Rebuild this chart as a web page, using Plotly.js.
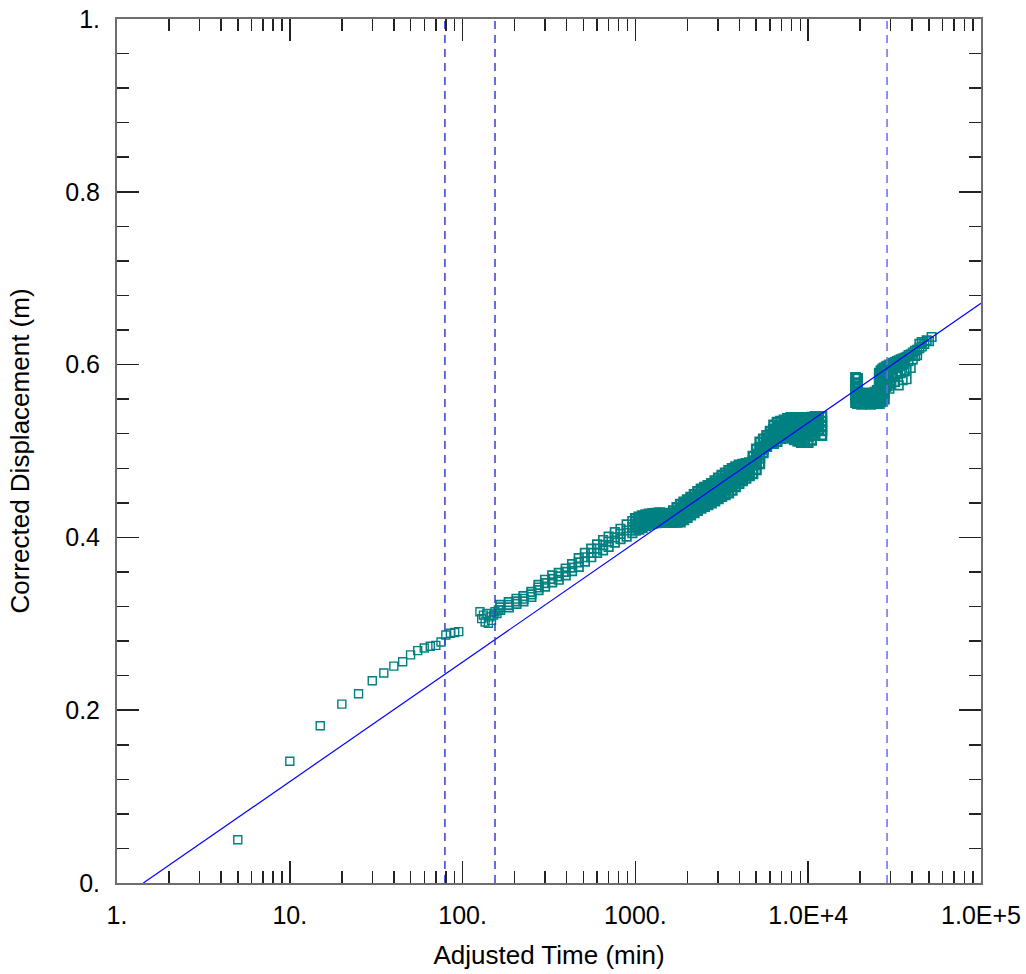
<!DOCTYPE html>
<html>
<head>
<meta charset="utf-8">
<script src="https://cdn.plot.ly/plotly-3.0.1.min.js"></script>
<style>html,body{margin:0;padding:0;background:#fff;}#chart{width:1026px;height:974px;}</style>
</head>
<body>
<div id="chart"></div>
<script>
// ---- data ----
var tStart = [5,10,15,20,25,30,35,40,45,50,55,60,65,70,75,80,85,90,95];
var dStart = [0.050,0.141,0.182,0.207,0.219,0.234,0.243,0.251,0.256,0.264,0.269,0.272,0.274,0.275,0.279,0.287,0.289,0.290,0.291];

var tCluster = [126,129,132,135,138,141,144,147,151,154,158,161];
var dCluster = [0.314,0.306,0.310,0.302,0.312,0.3006,0.308,0.304,0.310,0.314,0.312,0.316];

var tEarly = [165,185,205,225,250,275,300,330,360,395,430,470,510,555,600,650,700,760,820,890,960];
var dEarlyHi  = [0.322,0.325,0.329,0.332,0.337,0.345,0.351,0.356,0.359,0.364,0.369,0.376,0.382,0.387,0.392,0.397,0.401,0.406,0.410,0.415,0.419];
var dEarlyMid = [0.319,0.322,0.326,0.329,0.334,0.342,0.347,0.352,0.355,0.360,0.365,0.371,0.377,0.382,0.387,0.391,0.395,0.400,0.404,0.408,0.412];
var dEarlyLo  = [0.316,0.319,0.323,0.326,0.331,0.339,0.343,0.348,0.351,0.356,0.361,0.366,0.372,0.377,0.382,0.385,0.389,0.394,0.398,0.401,0.405];

var tDense = [1000,1047,1096,1148,1202,1259,1318,1380,1445,1514,1585,1660,1738,1820,1905,1995,2089,2188,2291,2399,2512,2630,2754,2884,3020,3162,3311,3467,3631,3802,3981,4169,4365,4571,4786,5012,5248,5495,5754,6026,6310,6607,6918,7244,7586,7943,8318,8710,9120,9550,10000,10471,10965,11482,12000];
var dDense1 = [.4219,.4238,.4252,.4262,.4271,.4277,.4280,.4285,.4281,.4277,.4273,.4310,.4346,.4383,.4410,.4436,.4465,.4498,.4531,.4560,.4580,.4600,.4625,.4656,.4689,.4720,.4747,.4775,.4799,.4818,.4838,.4848,.4855,.4866,.4939,.5024,.5105,.5140,.5179,.5228,.5301,.5334,.5344,.5360,.5376,.5388,.5388,.5388,.5388,.5388,.5388,.5391,.5399,.5399,.5399];
var dDense2 = [.4185,.4202,.4217,.4230,.4242,.4248,.4252,.4258,.4255,.4252,.4249,.4277,.4304,.4332,.4359,.4385,.4413,.4445,.4476,.4504,.4524,.4544,.4568,.4598,.4629,.4658,.4683,.4709,.4735,.4760,.4785,.4800,.4812,.4828,.4888,.4963,.5042,.5100,.5147,.5193,.5248,.5278,.5294,.5307,.5320,.5329,.5324,.5319,.5316,.5316,.5316,.5324,.5344,.5360,.5344];
var dDense3 = [.4150,.4167,.4182,.4198,.4212,.4220,.4225,.4230,.4229,.4227,.4225,.4243,.4261,.4281,.4308,.4334,.4362,.4392,.4421,.4449,.4468,.4488,.4512,.4539,.4568,.4596,.4620,.4644,.4672,.4702,.4731,.4752,.4769,.4789,.4838,.4903,.4979,.5059,.5116,.5158,.5194,.5222,.5245,.5255,.5265,.5270,.5260,.5250,.5243,.5243,.5243,.5258,.5289,.5322,.5290];
var dDense4 = [.4116,.4131,.4147,.4165,.4183,.4191,.4197,.4203,.4202,.4201,.4200,.4210,.4219,.4229,.4256,.4282,.4310,.4338,.4366,.4393,.4412,.4432,.4455,.4481,.4508,.4534,.4556,.4578,.4608,.4644,.4678,.4703,.4726,.4751,.4787,.4842,.4915,.5019,.5084,.5122,.5141,.5166,.5195,.5202,.5209,.5211,.5195,.5180,.5171,.5171,.5171,.5191,.5234,.5283,.5235];
var dDense5 = [.4081,.4095,.4112,.4133,.4153,.4162,.4169,.4175,.4176,.4176,.4176,.4176,.4176,.4178,.4205,.4231,.4258,.4285,.4311,.4337,.4356,.4376,.4398,.4422,.4447,.4472,.4492,.4512,.4544,.4586,.4624,.4655,.4683,.4712,.4736,.4781,.4852,.4978,.5052,.5087,.5087,.5110,.5145,.5149,.5153,.5152,.5131,.5111,.5098,.5098,.5098,.5124,.5179,.5244,.5180];

var tU = [18800,18800,18800,18800,18800,18800, 19300,19300,19300,19300,19300,19300,
          19800,19800,19800, 20400,20400,20400, 21000,21000,21000, 21600,21600,21600,
          22300,22300,22300, 23000,23000,23000, 23700,23700,23700, 24400,24400,24400, 25100,25100,25100,
          25800,25800,25800,25800,25800,25800,25800, 26400,26400,26400,26400,26400,26400,26400,
          27000,27000,27000,27000,27000,27000,27000, 27600,27600,27600,27600,27600,27600,27600];
var dU = [0.585,0.579,0.573,0.567,0.561,0.556, 0.584,0.578,0.572,0.566,0.560,0.555,
          0.567,0.561,0.555, 0.566,0.560,0.554, 0.567,0.561,0.555, 0.566,0.560,0.555,
          0.567,0.561,0.555, 0.566,0.560,0.554, 0.567,0.561,0.555, 0.568,0.562,0.556, 0.570,0.563,0.556,
          0.590,0.584,0.578,0.572,0.566,0.560,0.555, 0.593,0.587,0.581,0.575,0.569,0.563,0.557,
          0.595,0.589,0.583,0.577,0.571,0.565,0.558, 0.596,0.590,0.584,0.578,0.572,0.566,0.560];

var tTail = [28200,28200,28200,28200, 28800,28800,28800,28800, 29500,29500,29500,29500,
             30300,30300,30300,30300, 31000,31000,31000, 31800,31800,31800, 32600,32600,32600,
             33400,33400,33400, 34300,34300,34300, 35200,35200,35200, 36100,36100,36100,
             37100,37100,37100, 38100,38100, 39200,39200, 40300,40300, 41500,41500, 42700,42700,
             44000,44000, 45400,45400, 47000, 48500, 50000, 51800];
var dTail = [0.598,0.590,0.582,0.574, 0.599,0.591,0.583,0.575, 0.600,0.592,0.584,0.572,
             0.601,0.594,0.586,0.578, 0.602,0.595,0.587, 0.603,0.596,0.580, 0.604,0.597,0.589,
             0.605,0.598,0.576, 0.606,0.599,0.590, 0.607,0.600,0.582, 0.608,0.601,0.592,
             0.609,0.594,0.583, 0.611,0.604, 0.612,0.596, 0.614,0.606, 0.616,0.610, 0.617,0.611,
             0.619,0.624, 0.626,0.621, 0.624, 0.628, 0.627, 0.632];

var fitT = [1.42, 100000];
var fitD = [0.0, 0.671];

var markerT = [79, 154, 28600];
var markerColors = ['#3b3bd6', '#3b3bd6', '#6b6bff'];

var xTickVals = [1, 10, 100, 1000, 10000, 100000];
var xTickText = ['1.', '10.', '100.', '1000.', '1.0E+4', '1.0E+5'];
var yTickVals = [0, 0.2, 0.4, 0.6, 0.8, 1.0];
var yTickText = ['0.', '0.2', '0.4', '0.6', '0.8', '1.'];

// ---- build ----
var xMinor = [];
for (var d = 0; d < 5; d++) { for (var k = 2; k <= 9; k++) { xMinor.push(k * Math.pow(10, d)); } }
var yMinor = [];
for (var i = 1; i < 25; i++) { if (i % 5 !== 0) { yMinor.push(+(i * 0.04).toFixed(2)); } }

var teal = '#008080';
function pts(x, y, lw, sz) {
  return {x: x, y: y, type: 'scatter', mode: 'markers', hoverinfo: 'skip', showlegend: false,
    marker: {symbol: 'square-open', size: sz || 8, color: teal, line: {color: teal, width: lw || 1.4}}};
}

var traces = [
  pts(tStart, dStart, 1.4),
  pts(tCluster, dCluster, 1.4),
  pts(tEarly.concat(tEarly, tEarly), dEarlyHi.concat(dEarlyMid, dEarlyLo), 1.7, 8.5),
  pts(tDense.concat(tDense, tDense, tDense, tDense), dDense1.concat(dDense2, dDense3, dDense4, dDense5), 2.4, 8.5),
  pts(tU, dU, 2.4, 8.5),
  pts(tTail, dTail, 1.6, 8.5),
  {x: fitT, y: fitD, type: 'scatter', mode: 'lines', showlegend: false, hoverinfo: 'skip',
   line: {color: '#0000ff', width: 1.2}}
];
markerT.forEach(function (v, j) {
  traces.push({x: [v, v], y: [0, 1], type: 'scatter', mode: 'lines', showlegend: false, hoverinfo: 'skip',
    line: {color: markerColors[j], width: 1.5, dash: '8px,6px'}});
});

var font = {family: 'Liberation Sans, Arial, sans-serif', size: 26, color: '#000'};
var tfont = {family: 'Liberation Sans, Arial, sans-serif', size: 25, color: '#000'};
var layout = {
  width: 1026, height: 974,
  margin: {l: 117, r: 45, t: 19, b: 91},
  paper_bgcolor: '#fff', plot_bgcolor: '#fff',
  font: font,
  showlegend: false,
  xaxis: {
    type: 'log', range: [0, 5], autorange: false,
    tickmode: 'array', tickvals: xTickVals, ticktext: xTickText,
    ticks: 'inside', ticklen: 22, tickwidth: 1.5, tickcolor: '#222',
    showline: true, linecolor: '#6e6e6e', linewidth: 2, mirror: 'ticks',
    showgrid: false, zeroline: false,
    ticklabelstandoff: 9,
    tickfont: tfont,
    minor: {tickmode: 'array', tickvals: xMinor, ticks: 'inside', ticklen: 12, tickwidth: 1.5, tickcolor: '#222', showgrid: false},
    title: {text: 'Adjusted Time (min)', font: font, standoff: 18}
  },
  yaxis: {
    range: [0, 1], autorange: false,
    tickmode: 'array', tickvals: yTickVals, ticktext: yTickText,
    ticks: 'inside', ticklen: 22, tickwidth: 1.5, tickcolor: '#222',
    showline: true, linecolor: '#6e6e6e', linewidth: 2, mirror: 'ticks',
    showgrid: false, zeroline: false,
    ticklabelstandoff: 10,
    tickfont: tfont,
    minor: {tickmode: 'array', tickvals: yMinor, ticks: 'inside', ticklen: 12, tickwidth: 1.5, tickcolor: '#222', showgrid: false},
    title: {text: 'Corrected Displacement (m)', font: font, standoff: 28}
  }
};

Plotly.newPlot('chart', traces, layout, {staticPlot: true, displayModeBar: false});
</script>
</body>
</html>
